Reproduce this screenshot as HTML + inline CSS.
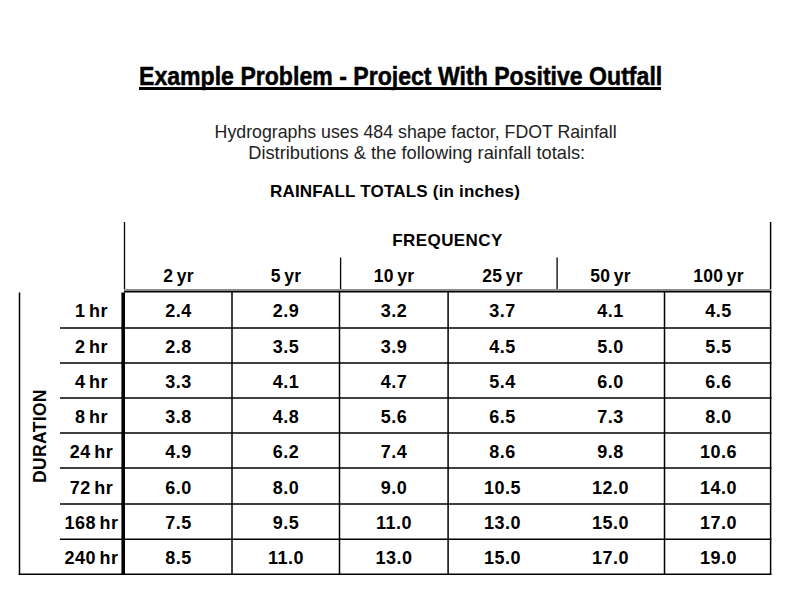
<!DOCTYPE html>
<html><head><meta charset="utf-8"><style>
html,body{margin:0;padding:0;background:#fff;width:800px;height:600px;overflow:hidden;position:relative}
body{font-family:"Liberation Sans",sans-serif;color:#000}
.l{position:absolute}
.t,.h{position:absolute;text-align:center;font-weight:bold;font-size:18px;line-height:0;white-space:nowrap;letter-spacing:0.45px;word-spacing:-1.8px}
.h{font-size:17.5px;letter-spacing:0.2px;word-spacing:-1.5px}
.f{font-size:17px;letter-spacing:0.4px}
.title{position:absolute;left:0;width:800px;top:0;text-align:center;font-weight:bold;font-size:26px;white-space:nowrap;-webkit-text-stroke:0.5px #000}
.sub{position:absolute;left:0;width:832px;text-align:center;font-size:18.5px;white-space:nowrap;color:#222}
.rt{position:absolute;left:0;width:790px;text-align:center;font-weight:bold;font-size:17px;white-space:nowrap}
.dur{position:absolute;font-weight:bold;font-size:17.5px;letter-spacing:0.35px;white-space:nowrap;transform-origin:0 0;transform:rotate(-90deg)}
</style></head><body>
<div class="title" style="top:60.5px"><span style="display:inline-block;transform:scaleX(0.888);position:relative;left:1px">Example Problem - Project With Positive Outfall</span></div>
<div class="l" style="left:139px;top:87px;width:522px;height:3px;background:#000"></div>
<div class="sub" style="top:121px"><span style="display:inline-block;transform:scaleX(0.959)">Hydrographs uses 484 shape factor, FDOT Rainfall</span></div>
<div class="sub" style="top:142px;left:1px"><span style="display:inline-block;transform:scaleX(0.987)">Distributions &amp; the following rainfall totals:</span></div>
<div class="rt" style="top:182px;letter-spacing:0.2px">RAINFALL TOTALS (in inches)</div>
<div class="dur" style="left:30px;top:483px">DURATION</div>
<svg class="l" style="left:0;top:0" width="800" height="600" viewBox="0 0 800 600"><line x1="124.5" y1="222" x2="124.5" y2="289" stroke="#000" stroke-width="1.3"/><line x1="770.6" y1="222" x2="770.6" y2="289" stroke="#000" stroke-width="1.5"/><line x1="340.6" y1="257.5" x2="340.6" y2="289" stroke="#000" stroke-width="1.3"/><line x1="557.1" y1="257.5" x2="557.1" y2="289" stroke="#000" stroke-width="1.3"/><line x1="124" y1="289.9" x2="771.3" y2="289.9" stroke="#8a8a8a" stroke-width="2"/><line x1="124" y1="291.7" x2="771.3" y2="291.7" stroke="#000" stroke-width="1.6"/><line x1="19.5" y1="292.5" x2="19.5" y2="575" stroke="#000" stroke-width="1.5"/><line x1="18.75" y1="574.25" x2="771.35" y2="574.25" stroke="#000" stroke-width="1.5"/><line x1="60" y1="328.1" x2="771.35" y2="328.1" stroke="#000" stroke-width="1.5"/><line x1="60" y1="363.1" x2="771.35" y2="363.1" stroke="#000" stroke-width="1.5"/><line x1="60" y1="398.1" x2="771.35" y2="398.1" stroke="#000" stroke-width="1.5"/><line x1="60" y1="433.1" x2="771.35" y2="433.1" stroke="#000" stroke-width="1.5"/><line x1="60" y1="468.1" x2="771.35" y2="468.1" stroke="#000" stroke-width="1.5"/><line x1="60" y1="503.9" x2="771.35" y2="503.9" stroke="#000" stroke-width="1.5"/><line x1="60" y1="539.2" x2="771.35" y2="539.2" stroke="#000" stroke-width="1.5"/><line x1="123.2" y1="292.5" x2="123.2" y2="575" stroke="#000" stroke-width="3.6"/><line x1="232.0" y1="291" x2="232.0" y2="575" stroke="#000" stroke-width="1.5"/><line x1="339.5" y1="291" x2="339.5" y2="575" stroke="#000" stroke-width="1.5"/><line x1="448.1" y1="291" x2="448.1" y2="575" stroke="#000" stroke-width="1.5"/><line x1="664.5" y1="291" x2="664.5" y2="575" stroke="#000" stroke-width="1.5"/><line x1="770.6" y1="291" x2="770.6" y2="575" stroke="#000" stroke-width="1.5"/></svg><div class="h" style="left:118.5px;top:275.8px;width:120px">2 yr</div><div class="h" style="left:226.0px;top:275.8px;width:120px">5 yr</div><div class="h" style="left:334.0px;top:275.8px;width:120px">10 yr</div><div class="h" style="left:442.5px;top:275.8px;width:120px">25 yr</div><div class="h" style="left:550.5px;top:275.8px;width:120px">50 yr</div><div class="h" style="left:658.5px;top:275.8px;width:120px">100 yr</div><div class="h f" style="left:347.5px;top:241.0px;width:200px">FREQUENCY</div><div class="t" style="left:31.5px;top:311.1px;width:120px">1 hr</div><div class="t" style="left:118.5px;top:311.1px;width:120px">2.4</div><div class="t" style="left:226.0px;top:311.1px;width:120px">2.9</div><div class="t" style="left:334.0px;top:311.1px;width:120px">3.2</div><div class="t" style="left:442.5px;top:311.1px;width:120px">3.7</div><div class="t" style="left:550.5px;top:311.1px;width:120px">4.1</div><div class="t" style="left:658.5px;top:311.1px;width:120px">4.5</div><div class="t" style="left:31.5px;top:347.1px;width:120px">2 hr</div><div class="t" style="left:118.5px;top:347.1px;width:120px">2.8</div><div class="t" style="left:226.0px;top:347.1px;width:120px">3.5</div><div class="t" style="left:334.0px;top:347.1px;width:120px">3.9</div><div class="t" style="left:442.5px;top:347.1px;width:120px">4.5</div><div class="t" style="left:550.5px;top:347.1px;width:120px">5.0</div><div class="t" style="left:658.5px;top:347.1px;width:120px">5.5</div><div class="t" style="left:31.5px;top:382.1px;width:120px">4 hr</div><div class="t" style="left:118.5px;top:382.1px;width:120px">3.3</div><div class="t" style="left:226.0px;top:382.1px;width:120px">4.1</div><div class="t" style="left:334.0px;top:382.1px;width:120px">4.7</div><div class="t" style="left:442.5px;top:382.1px;width:120px">5.4</div><div class="t" style="left:550.5px;top:382.1px;width:120px">6.0</div><div class="t" style="left:658.5px;top:382.1px;width:120px">6.6</div><div class="t" style="left:31.5px;top:417.1px;width:120px">8 hr</div><div class="t" style="left:118.5px;top:417.1px;width:120px">3.8</div><div class="t" style="left:226.0px;top:417.1px;width:120px">4.8</div><div class="t" style="left:334.0px;top:417.1px;width:120px">5.6</div><div class="t" style="left:442.5px;top:417.1px;width:120px">6.5</div><div class="t" style="left:550.5px;top:417.1px;width:120px">7.3</div><div class="t" style="left:658.5px;top:417.1px;width:120px">8.0</div><div class="t" style="left:31.5px;top:452.1px;width:120px">24 hr</div><div class="t" style="left:118.5px;top:452.1px;width:120px">4.9</div><div class="t" style="left:226.0px;top:452.1px;width:120px">6.2</div><div class="t" style="left:334.0px;top:452.1px;width:120px">7.4</div><div class="t" style="left:442.5px;top:452.1px;width:120px">8.6</div><div class="t" style="left:550.5px;top:452.1px;width:120px">9.8</div><div class="t" style="left:658.5px;top:452.1px;width:120px">10.6</div><div class="t" style="left:31.5px;top:487.6px;width:120px">72 hr</div><div class="t" style="left:118.5px;top:487.6px;width:120px">6.0</div><div class="t" style="left:226.0px;top:487.6px;width:120px">8.0</div><div class="t" style="left:334.0px;top:487.6px;width:120px">9.0</div><div class="t" style="left:442.5px;top:487.6px;width:120px">10.5</div><div class="t" style="left:550.5px;top:487.6px;width:120px">12.0</div><div class="t" style="left:658.5px;top:487.6px;width:120px">14.0</div><div class="t" style="left:31.5px;top:523.1px;width:120px">168 hr</div><div class="t" style="left:118.5px;top:523.1px;width:120px">7.5</div><div class="t" style="left:226.0px;top:523.1px;width:120px">9.5</div><div class="t" style="left:334.0px;top:523.1px;width:120px">11.0</div><div class="t" style="left:442.5px;top:523.1px;width:120px">13.0</div><div class="t" style="left:550.5px;top:523.1px;width:120px">15.0</div><div class="t" style="left:658.5px;top:523.1px;width:120px">17.0</div><div class="t" style="left:31.5px;top:558.1px;width:120px">240 hr</div><div class="t" style="left:118.5px;top:558.1px;width:120px">8.5</div><div class="t" style="left:226.0px;top:558.1px;width:120px">11.0</div><div class="t" style="left:334.0px;top:558.1px;width:120px">13.0</div><div class="t" style="left:442.5px;top:558.1px;width:120px">15.0</div><div class="t" style="left:550.5px;top:558.1px;width:120px">17.0</div><div class="t" style="left:658.5px;top:558.1px;width:120px">19.0</div>
</body></html>
